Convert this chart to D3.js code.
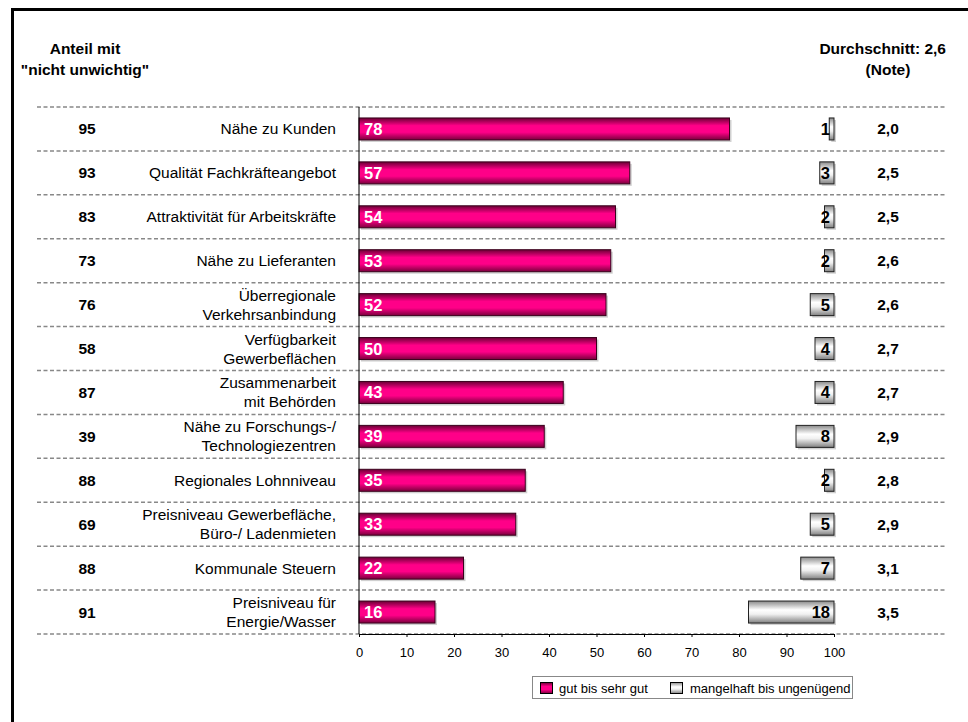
<!DOCTYPE html>
<html><head><meta charset="utf-8">
<script src="https://cdn.jsdelivr.net/npm/d3@7"></script>
<style>body{margin:0;background:#fff;}svg{display:block;font-family:"Liberation Sans",Arial,sans-serif;}</style>
</head><body>
<script>
const categories = ["Nähe zu Kunden","Qualität Fachkräfteangebot","Attraktivität für Arbeitskräfte","Nähe zu Lieferanten","Überregionale\nVerkehrsanbindung","Verfügbarkeit\nGewerbeflächen","Zusammenarbeit\nmit Behörden","Nähe zu Forschungs-/\nTechnologiezentren","Regionales Lohnniveau","Preisniveau Gewerbefläche,\nBüro-/ Ladenmieten","Kommunale Steuern","Preisniveau für\nEnergie/Wasser"];
const anteil = [95,93,83,73,76,58,87,39,88,69,88,91];
const gut = [78,57,54,53,52,50,43,39,35,33,22,16];
const mangelhaft = [1,3,2,2,5,4,4,8,2,5,7,18];
const noten = ["2,0","2,5","2,5","2,6","2,6","2,7","2,7","2,9","2,8","2,9","3,1","3,5"];
const ticks = [0,10,20,30,40,50,60,70,80,90,100];
const seriesNames = ["gut bis sehr gut","mangelhaft bis ungenügend"];

const W=968,H=722;
const svg=d3.select("body").append("svg").attr("width",W).attr("height",H);
const defs=svg.append("defs");
const gp=defs.append("linearGradient").attr("id","gPink").attr("x1",0).attr("y1",0).attr("x2",0).attr("y2",1);
gp.append("stop").attr("offset","0%").attr("stop-color","#6a0034");
gp.append("stop").attr("offset","35%").attr("stop-color","#ff0088");
gp.append("stop").attr("offset","65%").attr("stop-color","#ff0088");
gp.append("stop").attr("offset","100%").attr("stop-color","#7a003c");
const gg=defs.append("linearGradient").attr("id","gGrey").attr("x1",0).attr("y1",0).attr("x2",0).attr("y2",1);
gg.append("stop").attr("offset","0%").attr("stop-color","#8a8a8a");
gg.append("stop").attr("offset","40%").attr("stop-color","#ffffff");
gg.append("stop").attr("offset","60%").attr("stop-color","#f0f0f0");
gg.append("stop").attr("offset","100%").attr("stop-color","#808080");

// frame
svg.append("path").attr("d","M12.5,730V9.5H975").attr("fill","none").attr("stroke","#000").attr("stroke-width",3);

const x=d3.scaleLinear().domain([0,100]).range([359,834]);
const y=d3.scaleBand().domain(d3.range(categories.length)).range([107,634]).padding(0);
const bh=22;

// dashed separators
const seps=d3.range(categories.length+1).map(i=>107+i*y.bandwidth());
svg.selectAll("line.sep").data(seps).enter().append("line")
 .attr("x1",37).attr("x2",946).attr("y1",d=>d).attr("y2",d=>d)
 .attr("stroke","#888").attr("stroke-width",1.5).attr("stroke-dasharray","4,2.5");

// headers
const hdr=svg.append("g").attr("font-weight","bold").attr("font-size",15.5).attr("fill","#000");
hdr.append("text").attr("x",85).attr("y",54).attr("text-anchor","middle").text("Anteil mit");
hdr.append("text").attr("x",85).attr("y",75).attr("text-anchor","middle").text("\"nicht unwichtig\"");
hdr.append("text").attr("x",946).attr("y",54).attr("text-anchor","end").text("Durchschnitt: 2,6");
hdr.append("text").attr("x",888).attr("y",75).attr("text-anchor","middle").text("(Note)");

const rows=svg.selectAll("g.row").data(categories).enter().append("g");
const cy=i=>y(i)+y.bandwidth()/2;

// shadows
rows.append("rect").attr("x",x(0)+2).attr("y",(d,i)=>cy(i)-bh/2+2).attr("width",(d,i)=>x(gut[i])-x(0)).attr("height",bh).attr("fill","#d0d0d0");
rows.append("rect").attr("x",(d,i)=>x(100-mangelhaft[i])+2).attr("y",(d,i)=>cy(i)-bh/2+2).attr("width",(d,i)=>x(mangelhaft[i])-x(0)).attr("height",bh).attr("fill","#d0d0d0");
// bars
rows.append("rect").attr("x",x(0)).attr("y",(d,i)=>cy(i)-bh/2).attr("width",(d,i)=>x(gut[i])-x(0)).attr("height",bh)
 .attr("fill","url(#gPink)").attr("stroke","#3a001c").attr("stroke-width",1);
rows.append("rect").attr("x",(d,i)=>x(100-mangelhaft[i])).attr("y",(d,i)=>cy(i)-bh/2).attr("width",(d,i)=>x(mangelhaft[i])-x(0)).attr("height",bh)
 .attr("fill","url(#gGrey)").attr("stroke","#222").attr("stroke-width",1);

rows.append("text").attr("x",x(0)+5).attr("y",(d,i)=>cy(i)+6).attr("fill","#fff").attr("font-weight","bold").attr("font-size",16.5).text((d,i)=>gut[i]);
rows.append("text").attr("x",x(100)-4).attr("y",(d,i)=>cy(i)+6).attr("text-anchor","end").attr("fill","#000").attr("font-weight","bold").attr("font-size",16.5).text((d,i)=>mangelhaft[i]);
rows.append("text").attr("x",87).attr("y",(d,i)=>cy(i)+5.5).attr("text-anchor","middle").attr("font-weight","bold").attr("font-size",15.5).text((d,i)=>anteil[i]);
rows.append("text").attr("x",888).attr("y",(d,i)=>cy(i)+5.5).attr("text-anchor","middle").attr("font-weight","bold").attr("font-size",15.5).text((d,i)=>noten[i]);
rows.each(function(d,i){
  const lines=d.split("\n");
  const t=d3.select(this).append("text").attr("text-anchor","end").attr("font-size",15.5).attr("fill","#000");
  lines.forEach((l,k)=>{
    t.append("tspan").attr("x",336).attr("y",cy(i)+5.5+(k-(lines.length-1)/2)*19).text(l);
  });
});

// axes
svg.append("line").attr("x1",x(0)).attr("x2",x(0)).attr("y1",107).attr("y2",634).attr("stroke","#000");
const ax=svg.append("g").attr("transform","translate(0,634)").call(d3.axisBottom(x).tickValues(ticks).tickSize(3).tickFormat(d3.format("d")));
ax.select(".domain").attr("stroke","#000");
ax.selectAll(".tick line").attr("stroke","#000");
ax.selectAll("text").attr("font-size",13).attr("font-family","Liberation Sans, Arial, sans-serif").attr("dy","1.3em");

// legend
const lg=svg.append("g");
lg.append("rect").attr("x",532.5).attr("y",676.5).attr("width",320).attr("height",22).attr("fill","#fff").attr("stroke","#888");
lg.append("rect").attr("x",540.5).attr("y",682.5).attr("width",12).attr("height",11).attr("fill","url(#gPink)").attr("stroke","#000");
lg.append("text").attr("x",559).attr("y",692.5).attr("font-size",13).text(seriesNames[0]);
lg.append("rect").attr("x",670.5).attr("y",682.5).attr("width",12).attr("height",11).attr("fill","url(#gGrey)").attr("stroke","#000");
lg.append("text").attr("x",690).attr("y",692.5).attr("font-size",13).text(seriesNames[1]);
</script>
</body></html>
